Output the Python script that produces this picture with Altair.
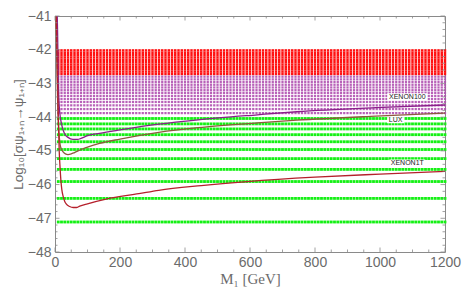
import altair as alt
import pandas as pd

# ---------------- data ----------------
MASS_GRID = list(range(10, 1201, 10))  # scan grid in M1 [GeV]

RED_ROWS = [-42.02, -42.09, -42.16, -42.23, -42.30, -42.37, -42.44,
            -42.51, -42.58, -42.65, -42.72]
PURPLE_ROWS = [-42.80, -42.88, -42.96, -43.04, -43.12, -43.20, -43.28,
               -43.37, -43.46, -43.55, -43.65, -43.76, -43.88]
GREEN_ROWS = [-44.04, -44.20, -44.35, -44.52, -44.73, -44.96, -45.23,
              -45.55, -45.91, -46.41, -47.11]

XENON1T_M = [3, 5, 8, 11, 13, 15, 18, 21, 25, 30, 35, 45, 56, 66, 76, 100,
             157, 258, 319, 450, 592, 800, 1000, 1200]
XENON1T_LOG = [-40.6, -41.5, -43.0, -44.3, -45.0, -45.4, -45.86, -46.15,
               -46.35, -46.5, -46.58, -46.65, -46.68, -46.68, -46.64, -46.57,
               -46.43, -46.27, -46.17, -46.03, -45.91, -45.78, -45.69, -45.61]

LUX_M = [2, 4, 6, 8, 10, 13, 16, 20, 25, 32, 40, 50, 60, 80, 100, 137, 200,
         319, 440, 623, 744, 987, 1200]
LUX_LOG = [-40.6, -41.5, -42.6, -43.5, -44.1, -44.55, -44.83, -44.95, -45.03,
           -45.09, -45.11, -45.09, -45.05, -44.96, -44.89, -44.78, -44.65,
           -44.45, -44.31, -44.17, -44.09, -43.97, -43.88]

XENON100_M = [6, 8, 9, 10, 12, 15, 20, 25, 30, 40, 55, 70, 80, 100, 137, 200,
              319, 440, 623, 744, 987, 1200]
XENON100_LOG = [-40.6, -41.5, -42.2, -42.9, -43.5, -43.9, -44.2, -44.38,
                -44.5, -44.6, -44.66, -44.66, -44.63, -44.55, -44.48, -44.38,
                -44.21, -44.08, -43.93, -43.84, -43.72, -43.64]

LABEL_TEXT = ["XENON100", "LUX", "XENON1T"]
LABEL_M = [1084, 1048, 1084]
LABEL_LOG = [-43.40, -44.09, -45.36]

X_MAJOR = [0, 200, 400, 600, 800, 1000, 1200]
X_MINOR = [50, 100, 150, 250, 300, 350, 450, 500, 550, 650, 700, 750,
           850, 900, 950, 1050, 1100, 1150]
Y_MAJOR = [-48, -47, -46, -45, -44, -43, -42, -41]
Y_MINOR = [-47.8, -47.6, -47.4, -47.2, -46.8, -46.6, -46.4, -46.2,
           -45.8, -45.6, -45.4, -45.2, -44.8, -44.6, -44.4, -44.2,
           -43.8, -43.6, -43.4, -43.2, -42.8, -42.6, -42.4, -42.2,
           -41.8, -41.6, -41.4, -41.2]

# ---------------- tables ----------------
def grid(rows):
    return pd.DataFrame([{"m": m, "v": r} for r in rows for m in MASS_GRID])

red_df = grid(RED_ROWS)
purple_df = grid(PURPLE_ROWS)
green_df = grid(GREEN_ROWS)
x1t_df = pd.DataFrame({"m": XENON1T_M, "v": XENON1T_LOG})
lux_df = pd.DataFrame({"m": LUX_M, "v": LUX_LOG})
x100_df = pd.DataFrame({"m": XENON100_M, "v": XENON100_LOG})
lab_df = pd.DataFrame({"t": LABEL_TEXT, "m": LABEL_M, "v": LABEL_LOG})

W, H = 390, 236
GRAY = "#6b6b6b"
FRAME = "#8a8a8a"

xs = alt.Scale(domain=[0, 1200], nice=False, zero=False)
ys = alt.Scale(domain=[-48, -41], nice=False, zero=False)

x_axis = alt.Axis(values=X_MAJOR, format="d", title="M₁ [GeV]",
                  titleFont="Liberation Serif", titleFontSize=15,
                  titleFontWeight="normal", titleColor=GRAY, titlePadding=2,
                  labelFont="Liberation Sans", labelFontSize=14,
                  labelColor=GRAY, labelPadding=3, ticks=False, domain=False,
                  grid=False, labelFlush=False)
y_axis = alt.Axis(values=Y_MAJOR, format="d", title="Log₁₀[σψ₁₊ₙ→ψ₁₊ₙ]",
                  titleFont="Liberation Sans", titleFontSize=13.5,
                  titleFontWeight="normal", titleColor=GRAY, titlePadding=2,
                  labelFont="Liberation Sans", labelFontSize=14, labelColor=GRAY,
                  labelPadding=4, ticks=False, domain=False, grid=False,
                  labelFlush=False)

X = alt.X("m:Q", scale=xs, axis=x_axis)
Y = alt.Y("v:Q", scale=ys, axis=y_axis)

red = alt.Chart(red_df).mark_square(size=6, color="#ff1212", opacity=1).encode(x=X, y=Y)
purple = alt.Chart(purple_df).mark_square(size=5, color="#b050b0", opacity=0.9).encode(x=X, y=Y)
green = alt.Chart(green_df).mark_square(size=8, color="#14f014", opacity=1).encode(x=X, y=Y)

def curve(df, color):
    return alt.Chart(df).mark_line(color=color, strokeWidth=1.3, clip=True,
                                   interpolate="monotone").encode(x=X, y=Y)

l1 = curve(x1t_df, "#b5202c")
l2 = curve(lux_df, "#8c5a3c")
l3 = curve(x100_df, "#8a1f8a")

BOX = {"XENON100": (40, 0.18), "LUX": (17, 0.36), "XENON1T": (36, 0.2)}
boxes = []
for name, (w, h) in BOX.items():
    path = f"M-1,-{h}L1,-{h}L1,{h}L-1,{h}Z"
    boxes.append(
        alt.Chart(lab_df).transform_filter(alt.datum.t == name)
        .mark_point(shape=path, size=w * w, filled=True, color="white", opacity=1)
        .encode(x=X, y=Y)
    )
labels = alt.Chart(lab_df).mark_text(fontSize=7, font="Liberation Sans",
                                     color="#222222").encode(x=X, y=Y, text="t:N")

# frame ticks (pointing inwards)
def xt(vals, length):
    df = pd.DataFrame({"m": vals})
    b = alt.Chart(df).mark_rule(color=FRAME, strokeWidth=0.8).encode(
        x=X, y=alt.value(H), y2=alt.value(H - length))
    t = alt.Chart(df).mark_rule(color=FRAME, strokeWidth=0.8).encode(
        x=X, y=alt.value(0), y2=alt.value(length))
    return [b, t]

def yt(vals, length):
    df = pd.DataFrame({"v": vals})
    l = alt.Chart(df).mark_rule(color=FRAME, strokeWidth=0.8).encode(
        y=Y, x=alt.value(0), x2=alt.value(length))
    r = alt.Chart(df).mark_rule(color=FRAME, strokeWidth=0.8).encode(
        y=Y, x=alt.value(W), x2=alt.value(W - length))
    return [l, r]

ticks = xt(X_MAJOR, 4.5) + xt(X_MINOR, 2.5) + yt(Y_MAJOR, 4.5) + yt(Y_MINOR, 2.5)

chart = alt.layer(
    red, purple, green, l2, l3, l1, *boxes, labels, *ticks
).properties(
    width=W, height=H,
    autosize=alt.AutoSizeParams(type="none"),
    padding={"left": 47, "top": 8, "right": 17, "bottom": 40},
).configure_view(
    stroke=FRAME, strokeWidth=1
)

chart.save("out.html", embed_options={"renderer": "svg", "actions": False})
